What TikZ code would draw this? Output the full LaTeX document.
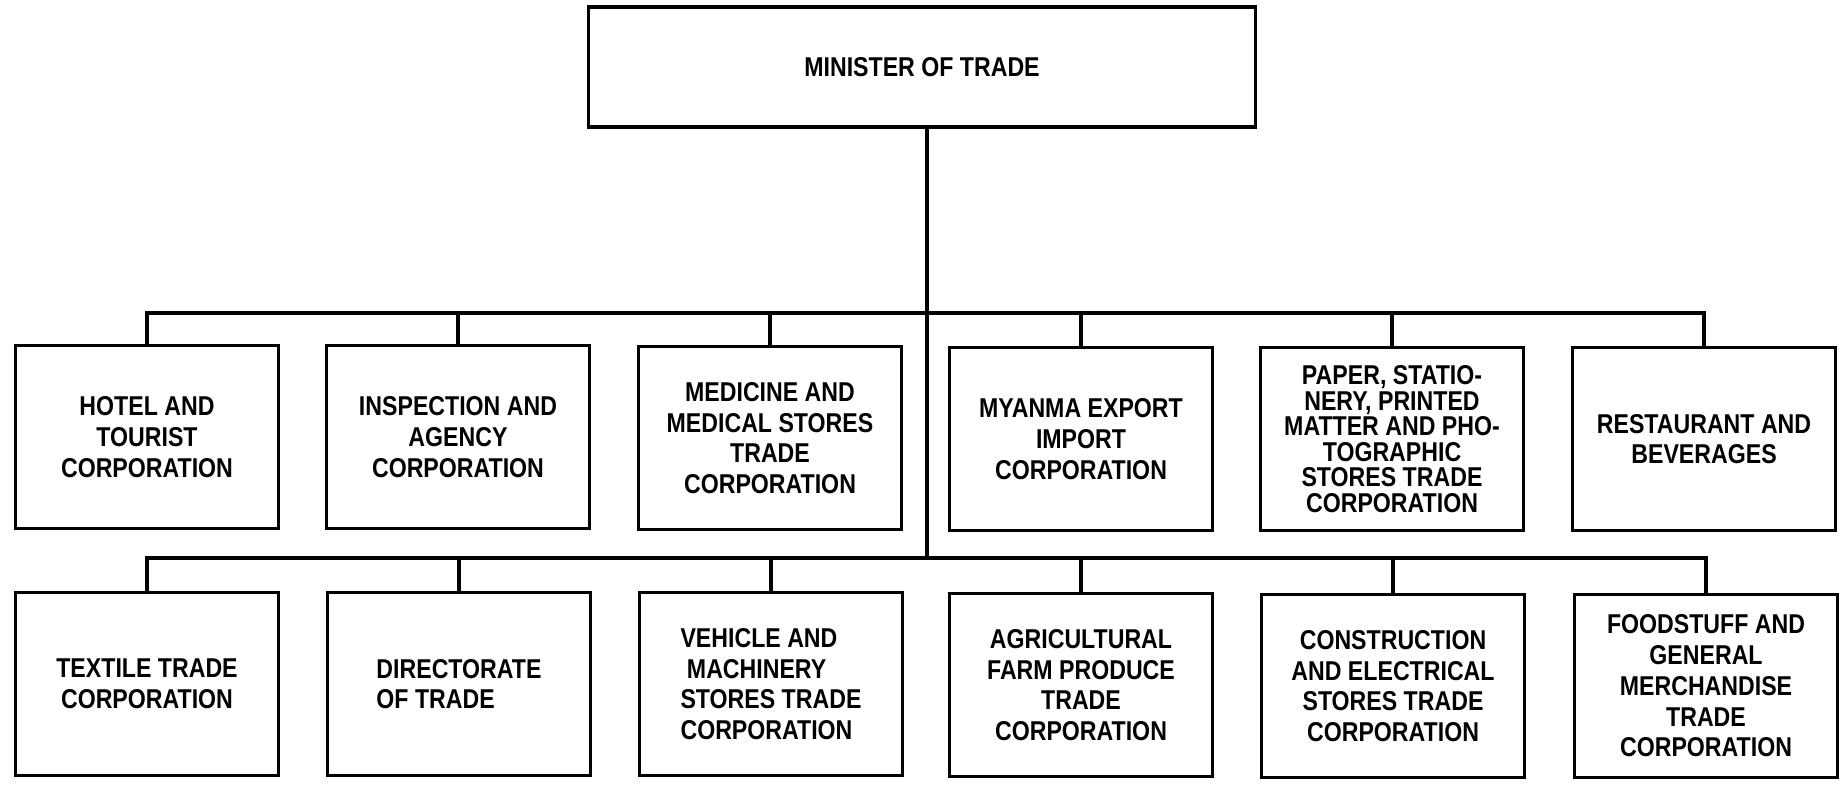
\documentclass[tikz,border=0pt]{standalone}
\usepackage{fontspec}
\setmainfont{Liberation Sans}[FakeStretch=0.85]
\usepackage{tikz}
\usetikzlibrary{calc}
\tikzset{
  wire/.style={draw=black, line width=2pt, line cap=rect, line join=miter},
  unit/.style={draw=black, line width=2pt, minimum width=5.26cm, minimum height=3.66cm,
    inner sep=2pt, align=center, font=\fontsize{15.5}{17.5}\selectfont\bfseries},
  head/.style={unit, minimum width=13.34cm, minimum height=2.4cm}
}

\begin{document}
\begin{tikzpicture}[x=0.02cm, y=-0.02cm]
  \useasboundingbox (0,0) rectangle (1848,785);
  \node[head] (minister) at (922,67) {MINISTER OF TRADE};
  % first row
  \node[unit] (hotel) at (147,437) {HOTEL AND\\TOURIST\\CORPORATION};
  \node[unit] (inspection) at (458,437) {INSPECTION AND\\AGENCY\\CORPORATION};
  \node[unit] (medicine) at (770,438) {MEDICINE AND\\MEDICAL STORES\\TRADE\\CORPORATION};
  \node[unit] (myanma) at (1081,439) {MYANMA EXPORT\\IMPORT\\CORPORATION};
  \node[unit, font=\fontsize{15.5}{14.5}\selectfont\bfseries] (paper) at (1392,439)
    {PAPER, STATIO-\\NERY, PRINTED\\MATTER AND PHO-\\TOGRAPHIC\\STORES TRADE\\CORPORATION};
  \node[unit] (restaurant) at (1704,439) {RESTAURANT AND\\BEVERAGES};
  % second row
  \node[unit] (textile) at (147,684) {TEXTILE TRADE\\CORPORATION};
  \node[unit, align=left] (directorate) at (459,684) {DIRECTORATE\\OF TRADE};
  \node[unit, align=left] (vehicle) at (771,684) {VEHICLE AND\\\ MACHINERY\\STORES TRADE\\CORPORATION};
  \node[unit] (agricultural) at (1081,685) {AGRICULTURAL\\FARM PRODUCE\\TRADE\\CORPORATION};
  \node[unit] (construction) at (1393,686) {CONSTRUCTION\\AND ELECTRICAL\\STORES TRADE\\CORPORATION};
  \node[unit] (foodstuff) at (1706,686) {FOODSTUFF AND\\GENERAL\\MERCHANDISE\\TRADE\\CORPORATION};
  % buses
  \coordinate (busa) at (927,313);
  \coordinate (busb) at (927,558);
  \draw[wire] (minister.south -| busa) -- (busb);
  \draw[wire] (hotel.north) |- (busa) -| (restaurant.north);
  \foreach \n in {inspection,medicine,myanma,paper}
    \draw[wire] (\n.north) -- (\n.north |- busa);
  \draw[wire] (textile.north) |- (busb) -| (foodstuff.north);
  \foreach \n in {directorate,vehicle,agricultural,construction}
    \draw[wire] (\n.north) -- (\n.north |- busb);
\end{tikzpicture}
\end{document}
